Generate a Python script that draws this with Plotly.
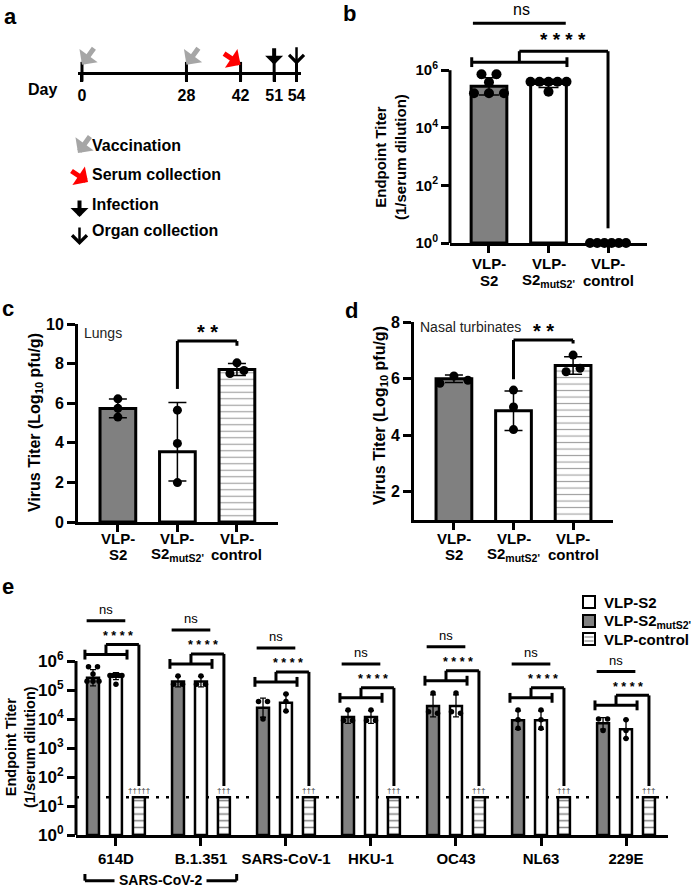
'''
    Multi-panel figure: VLP-S2 vaccination schedule, serum endpoint titers
    and virus titers in lungs / nasal turbinates.
'''
import numpy as np
import plotly.graph_objects as go

W, H = 691, 889
FONT = 'Liberation Sans, Arial, sans-serif'
GRAY = '#808080'

# ------------------------------------------------------------------ data
# a: schedule (days)
timeline_days = [0, 28, 42, 51, 54]
timeline_events = ['vacc', 'vacc', 'serum', 'infect', 'organ']
key_events = ['vacc', 'serum', 'infect', 'organ']
key_labels = ['Vaccination', 'Serum collection', 'Infection', 'Organ collection']

# b-d: vaccine groups (two-line tick labels)
group_top = ['VLP-', 'VLP-', 'VLP-']
group_bottom = ['S2', "S2<sub>mutS2'</sub>", 'control']

# b: endpoint titer, log10(1/serum dilution)
b_mean = [5.44, 5.54, 0.0]
b_err = [0.30, 0.14, None]
b_points = [[5.86, 5.86, 5.58, 5.20, 5.20, 5.20],
            [5.60, 5.60, 5.60, 5.60, 5.60, 5.25],
            [0.0, 0.0, 0.0, 0.0, 0.0, 0.0]]

# c: lungs, log10 pfu/g
c_mean = [5.73, 3.55, 7.70]
c_err_up = [0.48, 2.48, 0.30]
c_err_down = [0.46, 1.48, 0.30]
c_points = [[6.22, 5.74, 5.30], [5.65, 3.97, 1.99], [8.04, 7.50, 7.65]]

# d: nasal turbinates, log10 pfu/g
d_mean = [6.00, 4.87, 6.47]
d_err = [0.13, 0.70, 0.31]
d_points = [[5.84, 6.10, 5.95], [5.60, 5.00, 4.20], [6.25, 6.84, 6.37]]

# e: cross-reactive endpoint titers, log10(1/serum dilution)
variants = ['614D', 'B.1.351', 'SARS-CoV-1', 'HKU-1', 'OC43', 'NL63', '229E']
e_dark_mean = [5.42, 5.29, 4.39, 4.07, 4.45, 3.96, 3.85]
e_dark_err = [0.28, 0.18, 0.33, 0.22, 0.38, 0.32, 0.20]
e_dark_points = [[5.80, 5.80, 5.55, 5.30, 5.30, 5.30], [5.48, 5.20, 5.20],
                 [4.60, 4.60, 4.00], [4.31, 3.95, 3.95], [4.90, 4.25, 4.20],
                 [4.31, 3.97, 3.68], [4.00, 4.00, 3.60]]
e_open_mean = [5.48, 5.29, 4.56, 4.07, 4.45, 3.96, 3.65]
e_open_err = [0.12, 0.18, 0.30, 0.22, 0.38, 0.32, 0.32]
e_open_points = [[5.50, 5.50, 5.50, 5.50, 5.50, 5.20], [5.48, 5.20, 5.20],
                 [4.86, 4.60, 4.28], [4.31, 3.95, 3.95], [4.90, 4.25, 4.20],
                 [4.31, 3.97, 3.68], [3.97, 3.60, 3.33]]
e_ctrl_mean = [1.30, 1.30, 1.30, 1.30, 1.30, 1.30, 1.30]
e_ctrl_deaths = ['†††††', '†††', '†††', '†††', '†††', '†††', '†††']
e_lod = 1.30  # log10(20)
e_legend = ['VLP-S2', "VLP-S2<sub>mutS2'</sub>", 'VLP-control']

# ------------------------------------------------------------------ layout constants
# the schedule is a schematic, the last interval is drawn stretched
timeline_slot = [0, 28, 42.5, 51.5, 57.5]

# panel frames in pixels (left, right), (top, bottom) and axis ranges
PA = dict(x=(78, 301), y=(40, 71.7), xr=[-1.07, 58.7], yr=[0, 1])
PB = dict(x=(450, 647), y=(1.1, 243), xr=[-0.655, 2.655], yr=[0, 8.4])
PC = dict(x=(78, 278), y=(324, 522), xr=[-0.67, 2.69], yr=[0, 10])
PD = dict(x=(414, 613), y=(322.3, 520), xr=[-0.67, 2.67], yr=[1, 8])
PE = dict(x=(76, 668), y=(603, 835), xr=[-0.47, 6.494], yr=[0, 8.0])
E_BARGAP = 0.19

ARROWS = {
    'vacc': dict(arrowcolor='#a6a6a6', arrowhead=1, arrowwidth=5, arrowsize=0.75, ax=13, ay=-18),
    'serum': dict(arrowcolor='#ff0000', arrowhead=1, arrowwidth=5, arrowsize=0.75, ax=-18, ay=-12),
    'infect': dict(arrowcolor='black', arrowhead=1, arrowwidth=4, arrowsize=0.75, ax=0, ay=-18),
    'organ': dict(arrowcolor='black', arrowhead=4, arrowwidth=2.5, arrowsize=1.15, ax=0, ay=-19),
}

shapes = []
annotations = []


def ppu(p):
    '''pixels per x unit of a panel'''
    return (p['x'][1] - p['x'][0]) / (p['xr'][1] - p['xr'][0])


def font(size, bold=True, color='black'):
    return dict(family=FONT, size=size, color=color, weight='bold' if bold else 'normal')


def text(x, y, s, size, bold=True, xref='paper', yref='paper', color='black', **kw):
    '''paper positions are given in pixels from the top-left corner'''
    if xref == 'paper':
        x = x / W
    if yref == 'paper':
        y = 1 - y / H
    kw.setdefault('xanchor', 'center')
    kw.setdefault('yanchor', 'middle')
    annotations.append(dict(x=x, y=y, xref=xref, yref=yref, text=s, showarrow=False,
                            font=font(size, bold, color), **kw))


def seg(ax, x0, y0, x1, y1, w=3, xref=None, yref=None, color='black', dash='solid', **kw):
    shapes.append(dict(type='line', xref=xref or f'x{ax}', yref=yref or f'y{ax}',
                       x0=x0, y0=y0, x1=x1, y1=y1,
                       line=dict(color=color, width=w, dash=dash), **kw))


def spread(values, step, max_span, tol):
    '''horizontal offsets (px) for points that would sit on top of each other'''
    vals = np.asarray(values, float)
    idx = np.argsort(vals, kind='stable')
    clusters, cur = [], [idx[0]]
    for a, b in zip(idx[:-1], idx[1:]):
        if vals[b] - vals[a] <= tol:
            cur.append(b)
        else:
            clusters.append(cur)
            cur = [b]
    clusters.append(cur)
    off = np.zeros(len(vals))
    for cl in clusters:
        cl = sorted(cl)
        m = len(cl)
        if m > 1:
            s = min(step, max_span / (m - 1))
            for k, i in enumerate(cl):
                off[i] = (k - (m - 1) / 2) * s
    return off


def dots(ax, x, pts, p, size, step, span, tol):
    off = spread(pts, step, span, tol) / ppu(p)
    return go.Scatter(x=x + off, y=pts, mode='markers', xaxis=f'x{ax}', yaxis=f'y{ax}',
                      marker=dict(color='black', size=size), cliponaxis=False,
                      showlegend=False, hoverinfo='skip')


fig = go.Figure()

# ------------------------------------------------------------------ a
fig.add_trace(go.Scatter(x=timeline_slot, y=np.zeros(len(timeline_slot)), mode='markers',
                         marker=dict(symbol='line-ns', size=14, line=dict(width=3, color='black')),
                         cliponaxis=False, showlegend=False, hoverinfo='skip'))
for pos, ev in zip(timeline_slot, timeline_events):
    annotations.append(dict(x=pos, y=0, xref='x', yref='y', text='', showarrow=True,
                            yshift=7, **ARROWS[ev]))
text(42, 90, 'Day', 16)

key_tip = {'vacc': (78, 153), 'serum': (88, 182), 'infect': (79.5, 217), 'organ': (79.5, 245)}
key_y = [145, 175, 204, 231]
for ev, lab, yy in zip(key_events, key_labels, key_y):
    tx, ty = key_tip[ev]
    annotations.append(dict(x=tx / W, y=1 - ty / H, xref='paper', yref='paper', text='',
                            showarrow=True, **ARROWS[ev]))
    text(90, yy, lab, 16, xanchor='left')

# ------------------------------------------------------------------ b, c, d bars
fills = [GRAY, 'white', 'white']
patterns = ['', '', '-']


def group_bars(ax, mean, up, down, cap):
    return go.Bar(x=[0, 1, 2], y=mean, width=0.6, xaxis=f'x{ax}', yaxis=f'y{ax}',
                  marker=dict(color=fills, line=dict(color='black', width=3),
                              pattern=dict(shape=patterns, fgcolor='#9a9a9a', size=6.5,
                                           solidity=0.18)),
                  error_y=dict(type='data', array=up, arrayminus=down, symmetric=False,
                               color='black', thickness=1.5, width=cap),
                  showlegend=False, hoverinfo='skip')


def group_labels(ax, y_top, y_bottom):
    for i, (t, b) in enumerate(zip(group_top, group_bottom)):
        text(i, y_top, t, 15, xref=f'x{ax}')
        text(i, y_bottom, b, 15, xref=f'x{ax}')


fig.add_trace(group_bars(2, b_mean, b_err, b_err, 10))
for i, pts in enumerate(b_points):
    fig.add_trace(dots(2, i, pts, PB, 10, 15, 36, 0.15))
group_labels(2, 263, 280)

fig.add_trace(group_bars(3, c_mean, c_err_up, c_err_down, 9))
for i, pts in enumerate(c_points):
    fig.add_trace(dots(3, i, pts, PC, 9, 14, 28, 0.3))
group_labels(3, 538, 554)

fig.add_trace(group_bars(4, d_mean, d_err, d_err, 9))
for i, pts in enumerate(d_points):
    fig.add_trace(dots(4, i, pts, PD, 9, 14, 28, 0.2))
group_labels(4, 538, 554)

# b significance
b_base = max(max(p) for p in b_points[:2]) + 0.42
seg(2, -0.29, b_base, 1.31, b_base)
seg(2, -0.29, b_base - 0.17, -0.29, b_base + 0.17)
seg(2, 1.31, b_base - 0.17, 1.31, b_base + 0.17)
seg(2, 0.51, b_base, 0.51, b_base + 0.38)
seg(2, 0.51, b_base + 0.38, 2, b_base + 0.38)
seg(2, 2, b_base + 0.38, 2, max(b_points[2]) + 0.51)
seg(2, -0.27, b_base + 1.35, 1.29, b_base + 1.35)
text(1.25, b_base + 0.78, '* * * *', 19, xref='x2', yref='y2')
text(0.55, b_base + 1.82, 'ns', 16, bold=False, xref='x2', yref='y2')
# b y axis line only spans 10^0..10^6
seg(2, 0, 0, 0, 6, xref='x2 domain')

# c / d significance (mutS2' vs control)
seg(3, 1, 6.72, 1, 9.14)
seg(3, 1, 9.14, 2, 9.14)
seg(3, 2, 9.14, 2, 8.9)
text(1.5, 9.6, '* *', 20, xref='x3', yref='y3')
seg(4, 1, 5.98, 1, 7.37)
seg(4, 1, 7.37, 2, 7.37)
seg(4, 2, 7.37, 2, 7.25)
text(1.5, 7.7, '* *', 20, xref='x4', yref='y4')
text(0.02, 9.55, 'Lungs', 14, bold=False, xref='x3 domain', yref='y3',
     xanchor='left', color='#222')
text(0.02, 7.83, 'Nasal turbinates', 14, bold=False, xref='x4 domain', yref='y4',
     xanchor='left', color='#222')

# ------------------------------------------------------------------ e
xs = np.arange(len(variants))
e_off = (1 - E_BARGAP) / 3
e_line = dict(color='black', width=2.5)
e_errbar = dict(type='data', color='black', thickness=1.3, width=3)
fig.add_trace(go.Bar(x=xs, y=e_dark_mean, name=e_legend[1], showlegend=False,
                     xaxis='x5', yaxis='y5', marker=dict(color=GRAY, line=e_line),
                     error_y=dict(array=e_dark_err, **e_errbar), hoverinfo='skip'))
fig.add_trace(go.Bar(x=xs, y=e_open_mean, name=e_legend[0], showlegend=False,
                     xaxis='x5', yaxis='y5', marker=dict(color='white', line=e_line),
                     error_y=dict(array=e_open_err, **e_errbar), hoverinfo='skip'))
fig.add_trace(go.Bar(x=xs, y=e_ctrl_mean, name=e_legend[2], showlegend=False,
                     xaxis='x5', yaxis='y5',
                     marker=dict(color='white', line=e_line,
                                 pattern=dict(shape='-', fgcolor='black', size=6.7,
                                              solidity=0.22)),
                     hoverinfo='skip'))
for i in xs:
    fig.add_trace(dots(5, i - e_off, e_dark_points[i], PE, 5.5, 9, 12, 0.15))
    fig.add_trace(dots(5, i, e_open_points[i], PE, 5.5, 9, 12, 0.15))

    top = max(max(e_dark_points[i]), max(e_open_points[i]),
              e_dark_mean[i] + e_dark_err[i], e_open_mean[i] + e_open_err[i])
    base = top + 0.42
    xl, xr = i - e_off - 0.095, i + 0.13
    mid = (xl + xr) / 2
    seg(5, xl, base, xr, base)
    seg(5, xl, base - 0.17, xl, base + 0.17)
    seg(5, xr, base - 0.17, xr, base + 0.17)
    seg(5, mid, base, mid, base + 0.345)
    seg(5, mid, base + 0.345, i + e_off, base + 0.345)
    seg(5, i + e_off, base + 0.345, i + e_off, e_ctrl_mean[i] + 0.39)
    seg(5, xl + 0.02, base + 1.17, xr - 0.02, base + 1.17)
    text(i + 0.02, base + 0.65, '* * * *', 12.5, xref='x5', yref='y5')
    text(mid, base + 1.55, 'ns', 13, bold=False, xref='x5', yref='y5')
    text(i + e_off, e_ctrl_mean[i], e_ctrl_deaths[i], 8, bold=False, xref='x5', yref='y5',
         yanchor='bottom', color='#333')

# limit of detection
shapes.append(dict(type='line', xref='x5 domain', yref='y5', x0=0, x1=1, y0=e_lod, y1=e_lod,
                   layer='below', line=dict(color='black', width=2.5, dash='3px,7px')))
seg(5, 0, 0, 0, 6, xref='x5 domain')

# SARS-CoV-2 bracket under the first two variants
sx0, sx1 = -e_off - 0.095, 1 + e_off + 0.15
sy, sy_leg = 1 - 880.7 / H, 1 - 874 / H
seg(5, sx0, sy, sx1, sy, yref='paper')
seg(5, sx0, sy, sx0, sy_leg, yref='paper')
seg(5, sx1, sy, sx1, sy_leg, yref='paper')
text((sx0 + sx1) / 2, 880, 'SARS-CoV-2', 14, xref='x5', bgcolor='white', borderpad=4)

# legend of panel e, drawn in pixels
legend_rows = [602, 621, 639]
legend_fill = ['white', GRAY, 'white']
for lab, fill, yy in zip(e_legend, legend_fill, legend_rows):
    shapes.append(dict(type='rect', xref='paper', yref='paper',
                       x0=583 / W, x1=595 / W, y0=1 - (yy + 6) / H, y1=1 - (yy - 6) / H,
                       fillcolor=fill, line=dict(color='black', width=2)))
    text(602, yy, lab, 15, xanchor='left')
for dy in (-2, 2):
    seg(5, 584.5 / W, 1 - (legend_rows[2] + dy) / H, 593.5 / W, 1 - (legend_rows[2] + dy) / H,
        w=1.2, xref='paper', yref='paper', color='#888')

# ------------------------------------------------------------------ titles, panel letters
for lab, (x, y) in zip('abcde', [(10, 16), (349, 14), (8, 308), (352, 311), (8, 586)]):
    text(x, y, lab, 22)
text(390, 157, 'Endpoint Titer<br>(1/serum dilution)', 15, textangle=-90)
text(36, 423, 'Virus Titer (Log<sub>10</sub> pfu/g)', 16, textangle=-90)
text(381, 416, 'Virus Titer (Log<sub>10</sub> pfu/g)', 16, textangle=-90)
text(20, 747, 'Endpoint Titer<br>(1/serum dilution)', 14.5, textangle=-90)


# ------------------------------------------------------------------ axes
def xaxis(p, anchor, **kw):
    d = dict(domain=[p['x'][0] / W, p['x'][1] / W], range=p['xr'], anchor=anchor,
             showgrid=False, zeroline=False, showline=True, linecolor='black', linewidth=3,
             ticks='outside', ticklen=7, tickwidth=3, tickcolor='black', fixedrange=True)
    d.update(kw)
    return d


def yaxis(p, anchor, **kw):
    d = dict(domain=[1 - p['y'][1] / H, 1 - p['y'][0] / H], range=p['yr'], anchor=anchor,
             showgrid=False, zeroline=False, showline=True, linecolor='black', linewidth=3,
             ticks='outside', ticklen=8, tickwidth=3, tickcolor='black', fixedrange=True)
    d.update(kw)
    return d


pow10 = [f'10<sup>{k}</sup>' for k in range(7)]

fig.update_layout(
    width=W, height=H, margin=dict(l=0, r=0, t=0, b=0, autoexpand=False),
    paper_bgcolor='white', plot_bgcolor='white', showlegend=False,
    barmode='group', bargap=E_BARGAP, bargroupgap=0.48,
    font=dict(family=FONT, color='black'),
    xaxis=xaxis(PA, 'y', tickvals=timeline_slot, ticktext=[str(d) for d in timeline_days],
                tickfont=font(16)),
    yaxis=yaxis(PA, 'x', visible=False),
    xaxis2=xaxis(PB, 'y2', tickvals=[0, 1, 2], showticklabels=False),
    yaxis2=yaxis(PB, 'x2', showline=False, tickvals=[0, 2, 4, 6], ticktext=pow10[::2],
                 tickfont=font(15)),
    xaxis3=xaxis(PC, 'y3', tickvals=[0, 1, 2], showticklabels=False),
    yaxis3=yaxis(PC, 'x3', tickvals=[0, 2, 4, 6, 8, 10], tickfont=font(16)),
    xaxis4=xaxis(PD, 'y4', tickvals=[0, 1, 2], showticklabels=False),
    yaxis4=yaxis(PD, 'x4', tickvals=[2, 4, 6, 8], tickfont=font(16)),
    xaxis5=xaxis(PE, 'y5', tickvals=list(xs), ticktext=variants, ticklen=8, tickfont=font(15)),
    yaxis5=yaxis(PE, 'x5', showline=False, tickvals=list(range(7)), ticktext=pow10,
                 tickfont=font(17)),
    shapes=shapes, annotations=annotations,
)

# the page body has a default 8px margin; drop it so the figure fills the window
fig.write_html('out.html', config={'displayModeBar': False},
               post_script="document.body.style.margin = '0';")
